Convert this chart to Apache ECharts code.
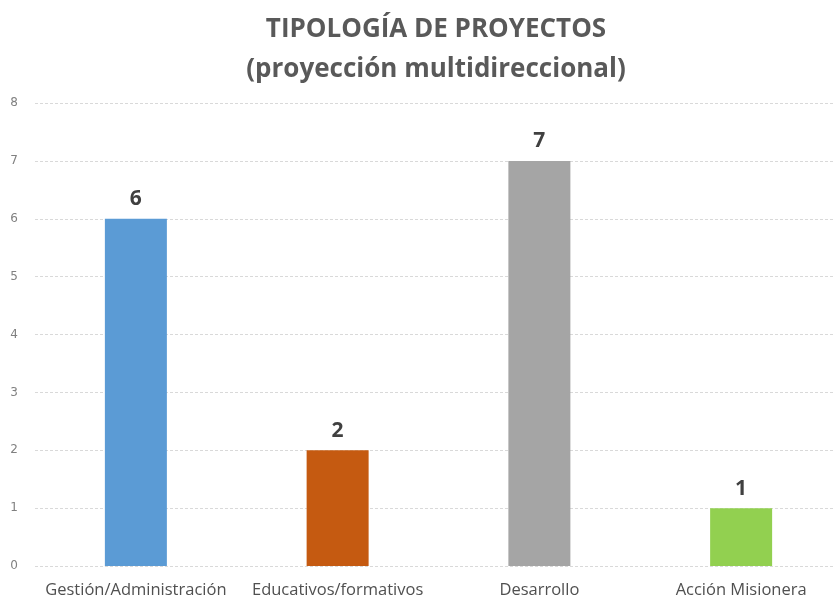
<!DOCTYPE html>
<html>
<head>
<meta charset="utf-8">
<script src="https://cdn.jsdelivr.net/npm/echarts@6/dist/echarts.min.js"></script>
<style>
  html, body { margin: 0; padding: 0; background: #fff; }
  #chart { width: 833px; height: 598px; }
</style>
</head>
<body>
<div id="chart"></div>
<script>
// datos del gráfico
let categorias = ['Gestión/Administración', 'Educativos/formativos', 'Desarrollo', 'Acción Misionera'];
let valores = [6, 2, 7, 1];
let colores = ['#5b9bd5', '#c55a11', '#a5a5a5', '#92d050'];

let myChart = echarts.init(document.getElementById('chart'));

let option = {
    animation: false,
    title: {
        text: 'TIPOLOGÍA DE PROYECTOS\n(proyección multidireccional)',
        left: 431,
        textAlign: 'center',
        top: 5,
        textStyle: {
            fontFamily: 'Open Sans',
            fontSize: 26,
            fontWeight: 'bold',
            color: '#595959',
            lineHeight: 40
        }
    },
    grid: {
        left: 35,
        width: 807,
        top: 103,
        bottom: 32,
        outerBoundsMode: 'none'
    },
    xAxis: {
        type: 'category',
        data: categorias,
        axisLine: { show: false },
        axisTick: { show: false },
        axisLabel: {
            interval: 0,
            margin: 16,
            fontFamily: 'Open Sans',
            fontSize: 16.5,
            color: '#505050'
        }
    },
    yAxis: {
        type: 'value',
        min: 0,
        max: 8,
        interval: 1,
        axisLine: { show: false },
        axisTick: { show: false },
        axisLabel: {
            margin: 17,
            fontFamily: 'DejaVu Sans',
            fontSize: 12,
            color: '#808080'
        },
        splitLine: {
            lineStyle: {
                color: '#d9d9d9',
                type: [3, 2],
                width: 1
            }
        }
    },
    series: [
        {
            type: 'bar',
            barWidth: 62,
            data: valores.map((v, i) => ({
                value: v,
                itemStyle: { color: colores[i] }
            })),
            label: {
                show: true,
                position: 'top',
                distance: 9,
                fontFamily: 'Open Sans',
                fontSize: 21,
                fontWeight: 'bold',
                color: '#404040'
            }
        }
    ]
};

myChart.setOption(option);
</script>
</body>
</html>
